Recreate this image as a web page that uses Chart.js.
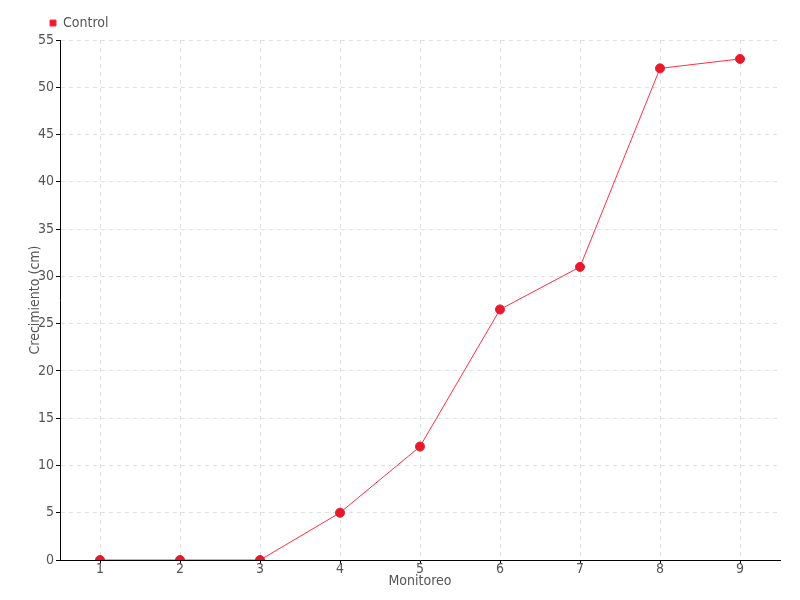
<!DOCTYPE html>
<html>
<head>
<meta charset="utf-8">
<script src="https://cdn.jsdelivr.net/npm/chart.js@4"></script>
<style>
  html, body { margin: 0; padding: 0; background: #fff; }
  #wrap { width: 800px; height: 600px; }
</style>
</head>
<body>
<div id="wrap"><canvas id="myChart" width="800" height="600"></canvas></div>
<script>
const monitoreo = ['1', '2', '3', '4', '5', '6', '7', '8', '9'];
const control = [0, 0, 0, 5, 12, 26.5, 31, 52, 53];
const yMin = 0, yMax = 55, yStep = 5;

Chart.defaults.font.family = "'DejaVu Sans', sans-serif";
Chart.defaults.font.weight = 'condensed';
Chart.defaults.font.size = 14;
Chart.defaults.color = '#555';

// nudge the legend to the right, as in the original
const legendShift = {
    id: 'legendShift',
    afterLayout: function (chart) {
        chart.legend.left += 40;
        chart.legend.right += 40;
    }
};

const ctx = document.getElementById('myChart').getContext('2d');
const myChart = new Chart(ctx, {
    type: 'line',
    data: {
        labels: monitoreo,
        datasets: [{
            label: 'Control',
            data: control,
            borderColor: '#ff3040',
            backgroundColor: '#e8192c',
            pointBackgroundColor: '#e8192c',
            pointBorderColor: '#e8192c',
            borderWidth: 1,
            pointRadius: 4.5,
            tension: 0
        }]
    },
    plugins: [legendShift],
    options: {
        responsive: false,
        animation: false,
        layout: { padding: { left: 0, right: 20, top: 6, bottom: 0 } },
        plugins: {
            legend: {
                align: 'start',
                labels: {
                    boxWidth: 6,
                    boxHeight: 6,
                    padding: 10,
                    color: '#555'
                }
            },
            tooltip: { enabled: false }
        },
        scales: {
            x: {
                offset: true,
                grid: {
                    offset: false,
                    color: '#e0e0e0',
                    tickColor: '#000',
                    tickLength: 4
                },
                border: { color: '#000', width: 1, dash: [4, 4] },
                ticks: { padding: -3, color: '#555' },
                title: {
                    display: true,
                    text: 'Monitoreo',
                    color: '#555',
                    padding: { top: 0, bottom: 10 }
                },
                afterFit: function (scale) { scale.height = 40; }
            },
            y: {
                min: yMin,
                max: yMax,
                ticks: { stepSize: yStep, padding: 2, color: '#555' },
                grid: {
                    color: '#e0e0e0',
                    tickColor: '#000',
                    tickLength: 4
                },
                border: { color: '#000', width: 1, dash: [4, 4] },
                title: {
                    display: true,
                    text: 'Crecimiento (cm)',
                    color: '#555',
                    padding: { top: 27, bottom: 0 }
                },
                afterFit: function (scale) { scale.width = 60; }
            }
        }
    }
});
</script>
</body>
</html>
